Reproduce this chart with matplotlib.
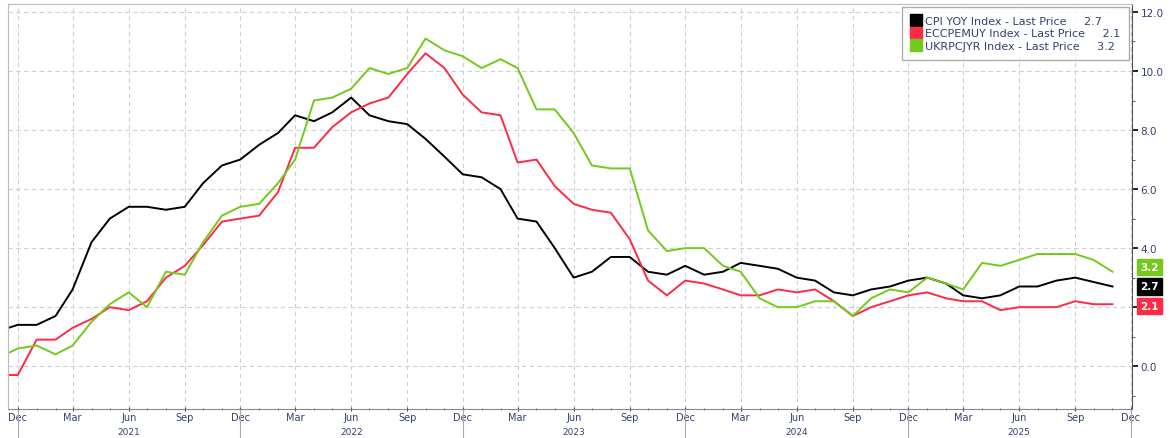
import matplotlib
matplotlib.use("Agg")
import matplotlib.pyplot as plt
import matplotlib.dates as mdates
from matplotlib.lines import Line2D
from matplotlib.ticker import MultipleLocator
import pandas as pd

# monthly observations, Nov 2020 .. Nov 2025
months = pd.date_range("2020-11-01", periods=61, freq="MS")

# US CPI YoY (no October 2025 print)
us_cpi = [1.2, 1.4,
          1.4, 1.7, 2.6, 4.2, 5.0, 5.4, 5.4, 5.3, 5.4, 6.2, 6.8, 7.0,
          7.5, 7.9, 8.5, 8.3, 8.6, 9.1, 8.5, 8.3, 8.2, 7.7, 7.1, 6.5,
          6.4, 6.0, 5.0, 4.9, 4.0, 3.0, 3.2, 3.7, 3.7, 3.2, 3.1, 3.4,
          3.1, 3.2, 3.5, 3.4, 3.3, 3.0, 2.9, 2.5, 2.4, 2.6, 2.7, 2.9,
          3.0, 2.8, 2.4, 2.3, 2.4, 2.7, 2.7, 2.9, 3.0, None, 2.7]

# Euro area HICP YoY
ez_hicp = [-0.3, -0.3,
           0.9, 0.9, 1.3, 1.6, 2.0, 1.9, 2.2, 3.0, 3.4, 4.1, 4.9, 5.0,
           5.1, 5.9, 7.4, 7.4, 8.1, 8.6, 8.9, 9.1, 9.9, 10.6, 10.1, 9.2,
           8.6, 8.5, 6.9, 7.0, 6.1, 5.5, 5.3, 5.2, 4.3, 2.9, 2.4, 2.9,
           2.8, 2.6, 2.4, 2.4, 2.6, 2.5, 2.6, 2.2, 1.7, 2.0, 2.2, 2.4,
           2.5, 2.3, 2.2, 2.2, 1.9, 2.0, 2.0, 2.0, 2.2, 2.1, 2.1]

# UK CPI YoY
uk_cpi = [0.3, 0.6,
          0.7, 0.4, 0.7, 1.5, 2.1, 2.5, 2.0, 3.2, 3.1, 4.2, 5.1, 5.4,
          5.5, 6.2, 7.0, 9.0, 9.1, 9.4, 10.1, 9.9, 10.1, 11.1, 10.7, 10.5,
          10.1, 10.4, 10.1, 8.7, 8.7, 7.9, 6.8, 6.7, 6.7, 4.6, 3.9, 4.0,
          4.0, 3.4, 3.2, 2.3, 2.0, 2.0, 2.2, 2.2, 1.7, 2.3, 2.6, 2.5,
          3.0, 2.8, 2.6, 3.5, 3.4, 3.6, 3.8, 3.8, 3.8, 3.6, 3.2]

names = ["CPI YOY Index - Last Price", "ECCPEMUY Index - Last Price", "UKRPCJYR Index - Last Price"]
last_prices = ["2.7", "2.1", "3.2"]
colors = ["#000000", "#ff2a45", "#74c91a"]
year_labels = ["2021", "2022", "2023", "2024", "2025"]

fig = plt.figure(figsize=(11.75, 4.39), dpi=100)
ax = fig.add_axes([8 / 1175, 1 - 410 / 439, 1124 / 1175, 405 / 439])

text_col = "#34406e"
for vals, col in zip([us_cpi, ez_hicp, uk_cpi], colors):
    s = pd.Series(vals, index=months, dtype=float).dropna()
    ax.plot(s.index, s.values, color=col, lw=1.4, solid_joinstyle="round")

ax.set_xlim(pd.Timestamp("2020-11-15"), pd.Timestamp("2025-12-03"))
ax.set_ylim(-1.45, 12.27)

# axes / ticks
ax.yaxis.tick_right()
ax.yaxis.set_major_locator(MultipleLocator(2))
ax.yaxis.set_minor_locator(MultipleLocator(1))
ax.yaxis.set_major_formatter(lambda v, p: "" if abs(v - 2) < 1e-6 else f"{v:.1f}")
ax.tick_params(axis="y", which="major", length=4, width=1.2, color="black",
               labelsize=7.5, labelcolor=text_col, pad=2)
ax.tick_params(axis="y", which="minor", length=2, color="#444444")

ax.xaxis.set_major_locator(mdates.MonthLocator(bymonth=[3, 6, 9, 12]))
ax.xaxis.set_minor_locator(mdates.MonthLocator())
ax.xaxis.set_major_formatter(mdates.DateFormatter("%b"))
ax.tick_params(axis="x", which="major", length=3, color="#444444",
               labelsize=7, labelcolor=text_col, pad=1, direction="inout")
ax.tick_params(axis="x", which="minor", length=2, color="#444444", direction="inout")

ax.grid(True, which="major", color="#c9d0e2", lw=0.8, ls=(0, (4, 3)))

for side in ["top", "left"]:
    ax.spines[side].set_color("#bbbbbb")
ax.spines["right"].set_color("#555555")
ax.spines["bottom"].set_color("#888888")

# year labels and separators
for i, yl in enumerate(year_labels):
    ax.text(pd.Timestamp(f"{2021 + i}-06-01"), -0.045, yl, transform=ax.get_xaxis_transform(),
            ha="center", va="top", fontsize=6.5, color=text_col)
for yr in range(2020, 2026):
    ax.plot([pd.Timestamp(f"{yr}-12-01")] * 2, [0, -0.08], transform=ax.get_xaxis_transform(),
            color="#aaaaaa", lw=0.8, clip_on=False)

# last-value tags on the right axis
tag_y = [2.7, 2.05, 3.35]
for ty, lp, col in zip(tag_y, last_prices, colors):
    ax.annotate(lp, xy=(1, ty), xycoords=ax.get_yaxis_transform(), xytext=(6, 0),
                textcoords="offset points", ha="left", va="center", fontsize=7.5,
                color="white", fontweight="bold",
                bbox=dict(boxstyle="square,pad=0.3", fc=col, ec=col))

# legend
handles = [Line2D([], [], marker="s", ms=9, ls="", color=c) for c in colors]
labels = [f"{n}     {v}" for n, v in zip(names, last_prices)]
leg = ax.legend(handles, labels, loc="upper right", fontsize=8, frameon=True,
                fancybox=False, edgecolor="#999999", handletextpad=0.3,
                labelspacing=0.25, borderaxespad=0.25, handlelength=1.0,
                borderpad=0.8)
for t in leg.get_texts():
    t.set_color(text_col)

fig.savefig("out.png", dpi=100)
